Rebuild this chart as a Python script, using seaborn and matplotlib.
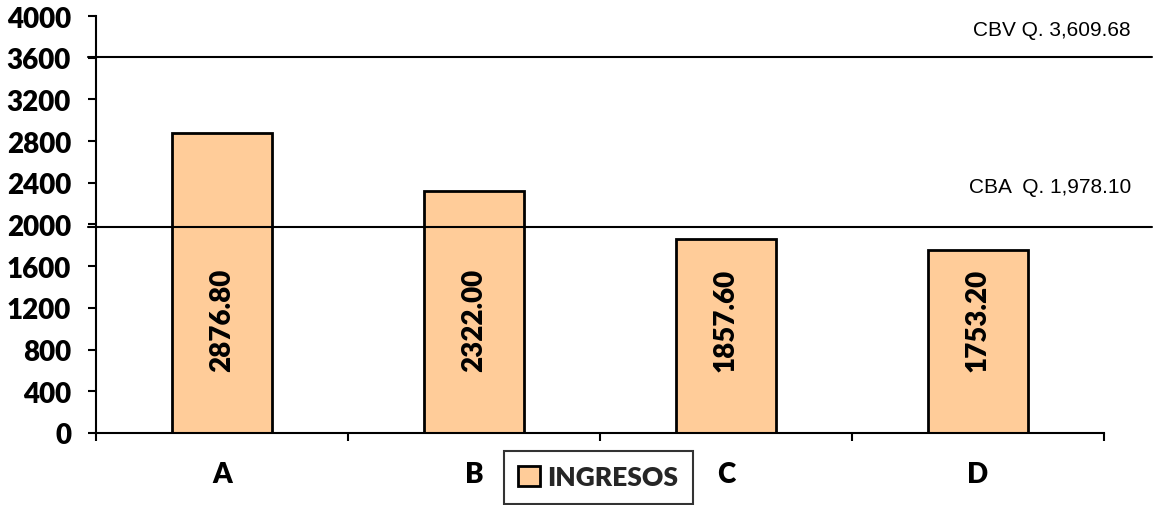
import pandas as pd
import matplotlib.pyplot as plt
import seaborn as sns
import numpy as np

# Data
categorias = ['A', 'B', 'C', 'D']
ingresos = [2876.80, 2322.00, 1857.60, 1753.20]
cbv = 3609.68
cba = 1978.10
y_ticks = [0, 400, 800, 1200, 1600, 2000, 2400, 2800, 3200, 3600, 4000]

df = pd.DataFrame({'Categoria': categorias, 'INGRESOS': ingresos})

sns.set_theme(style="white")
plt.rcParams['font.family'] = ['Lato', 'DejaVu Sans']

fig = plt.figure(figsize=(11.53, 5.06), dpi=100)
ax = fig.add_axes([0.0833, 0.1423, 0.9575 - 0.0833, 0.9664 - 0.1423])

sns.barplot(data=df, x='Categoria', y='INGRESOS', color='#FFCC99', saturation=1,
            edgecolor='black', linewidth=2, width=0.4, ax=ax)

ax.set_xlim(-0.5, 3.5)
ax.set_ylim(0, 4000)
ax.set_yticks(y_ticks)
ax.set_yticklabels([str(t) for t in y_ticks], fontsize=20, fontweight='heavy')
ax.set_xticks(range(len(categorias)))
ax.set_xticklabels(categorias, fontsize=20, fontweight='heavy')
ax.set_xticks(np.arange(-0.5, 4, 1), minor=True)
ax.tick_params(axis='x', which='major', length=0, pad=20, colors='black')
ax.tick_params(axis='x', which='minor', length=6, width=1.5, direction='out', color='black', bottom=True)
ax.tick_params(axis='y', length=6, width=1.5, direction='out', pad=12, colors='black', left=True)
ax.set_xlabel('')
ax.set_ylabel('')

for s in ['top', 'right']:
    ax.spines[s].set_visible(False)
for s in ['left', 'bottom']:
    ax.spines[s].set_color('black')
    ax.spines[s].set_linewidth(1.5)

# value labels inside bars
for i, v in enumerate(ingresos):
    ax.text(i, 1090, f"{v:.2f}", rotation=90, ha='center', va='center',
            fontsize=20, fontweight='heavy', color='black')

# reference lines extending past the axes
for val in [cbv, cba]:
    ax.plot([-0.532, 3.69], [val, val], color='black', linewidth=1.5, clip_on=False)

ax.text(3.607, cbv + 265, "CBV Q. 3,609.68", ha='right', va='center',
        fontsize=15, family=['Liberation Sans', 'DejaVu Sans'], color='black')
ax.text(3.607, cba + 382, "CBA  Q. 1,978.10", ha='right', va='center',
        fontsize=15, family=['Liberation Sans', 'DejaVu Sans'], color='black')

leg = fig.legend(handles=ax.patches[:1], labels=['INGRESOS'], loc='lower center',
                 bbox_to_anchor=(0.519, 0.002), frameon=True, fancybox=False,
                 prop={'weight': 'heavy', 'size': 19}, handlelength=0.8, handleheight=0.8,
                 handletextpad=0.3, borderpad=0.55, borderaxespad=0.0)
leg.get_frame().set_edgecolor('black')
leg.get_frame().set_linewidth(1.5)

fig.savefig('out.png', dpi=100)
